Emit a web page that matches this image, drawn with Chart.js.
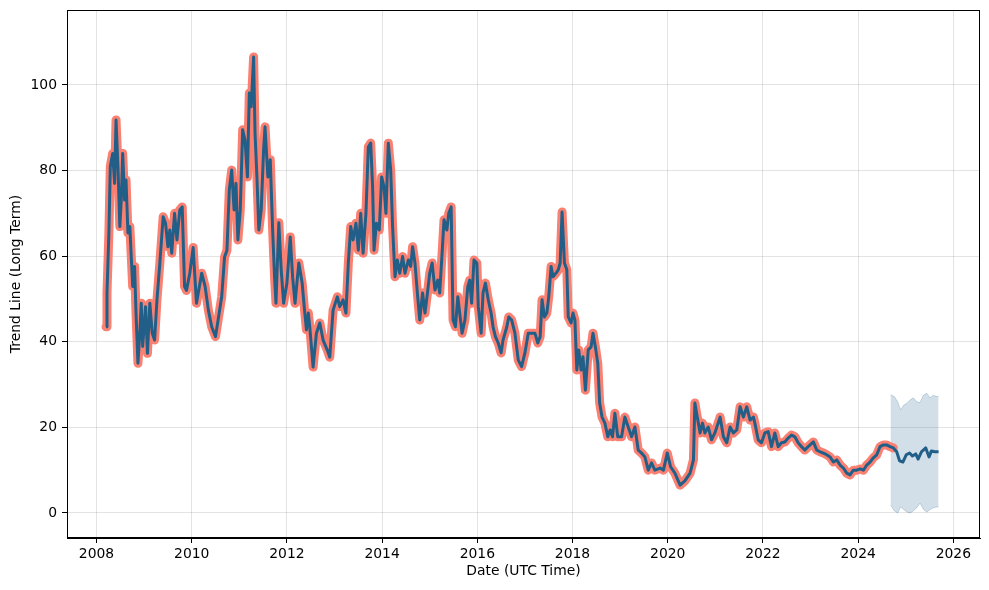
<!DOCTYPE html>
<html lang="en">
  <head>
    <meta charset="UTF-8" />
    <title>Trend Line (Long Term)</title>
    <style>
      html,
      body {
        margin: 0;
        padding: 0;
        background: #fff;
      }
    </style>
    <script src="https://cdn.jsdelivr.net/npm/chart.js"></script>
  </head>
  <body>
    <canvas id="chart" width="989" height="590"></canvas>
    <script>
      // observed history (decimal years)
      const dates = [
        // 2008 - 2009
        2008.20, 2008.22, 2008.26, 2008.29, 2008.34, 2008.38, 2008.41, 2008.45, 2008.49, 2008.52,
        2008.55, 2008.59, 2008.62, 2008.66, 2008.70, 2008.73, 2008.76, 2008.80, 2008.83, 2008.87,
        2008.91, 2008.94, 2008.97, 2009.03, 2009.07, 2009.12, 2009.17, 2009.22, 2009.27, 2009.33,
        2009.40, 2009.45, 2009.50, 2009.54, 2009.58, 2009.64, 2009.69, 2009.75, 2009.80, 2009.85,
        // 2010
        2009.89, 2009.96, 2010.03, 2010.10, 2010.21, 2010.28, 2010.35, 2010.42, 2010.50,
        // 2010 - 2012
        2010.63, 2010.69, 2010.74, 2010.79, 2010.84, 2010.89, 2010.93, 2010.97, 2011.02, 2011.07,
        2011.12, 2011.17, 2011.21, 2011.25, 2011.30, 2011.33, 2011.37, 2011.41, 2011.46, 2011.51,
        2011.54, 2011.60, 2011.65, 2011.70, 2011.74, 2011.77, 2011.83, 2011.88, 2011.93, 2012.00,
        2012.07, 2012.12, 2012.17, 2012.25, 2012.32, 2012.37,
        // 2012 - 2013
        2012.41, 2012.45, 2012.48, 2012.55, 2012.62, 2012.69, 2012.76, 2012.85, 2012.90, 2012.97,
        2013.06,
        // 2013 - 2014
        2013.11, 2013.18, 2013.24, 2013.29, 2013.34, 2013.39, 2013.45, 2013.50, 2013.55, 2013.60,
        2013.66, 2013.71, 2013.76, 2013.80, 2013.83, 2013.88, 2013.94, 2013.99, 2014.04, 2014.08,
        2014.13, 2014.18, 2014.22, 2014.27, 2014.32, 2014.37, 2014.43, 2014.48, 2014.55, 2014.60,
        2014.64, 2014.69, 2014.74, 2014.79, 2014.85,
        // 2015 - 2016
        2014.90, 2014.96, 2015.00, 2015.05, 2015.11, 2015.17, 2015.21, 2015.26, 2015.30, 2015.36,
        2015.40, 2015.45, 2015.47, 2015.49, 2015.54, 2015.59, 2015.63, 2015.68, 2015.74, 2015.80,
        2015.84, 2015.88, 2015.93, 2015.99, 2016.02, 2016.08, 2016.12, 2016.17, 2016.23, 2016.29,
        2016.33, 2016.38, 2016.44, 2016.50, 2016.54, 2016.62, 2016.66,
        // 2016 - 2017
        2016.72, 2016.79, 2016.86, 2016.93, 2017.00, 2017.07, 2017.14,
        // 2017 - 2018
        2017.21, 2017.27, 2017.32, 2017.36, 2017.41, 2017.46, 2017.50, 2017.55, 2017.59, 2017.65,
        2017.70, 2017.74, 2017.78, 2017.83, 2017.88, 2017.91, 2017.97, 2018.01, 2018.05, 2018.09,
        2018.13, 2018.18, 2018.22, 2018.27, 2018.33, 2018.39, 2018.43, 2018.48, 2018.53, 2018.57,
        2018.62, 2018.68, 2018.74, 2018.79, 2018.84, 2018.89, 2018.95,
        // 2019 - 2024
        2019.03, 2019.10, 2019.17, 2019.24, 2019.31, 2019.38, 2019.45, 2019.52, 2019.59, 2019.66,
        2019.73, 2019.84, 2019.91, 2019.99, 2020.06, 2020.15, 2020.26, 2020.36, 2020.47, 2020.54,
        2020.57, 2020.62, 2020.68, 2020.73, 2020.78, 2020.85, 2020.92, 2020.99, 2021.10, 2021.17,
        2021.24, 2021.31, 2021.38, 2021.45, 2021.52, 2021.59, 2021.66, 2021.73, 2021.80, 2021.83,
        2021.90, 2021.97, 2022.04, 2022.11, 2022.18, 2022.25, 2022.32, 2022.39, 2022.46, 2022.53,
        2022.60, 2022.67, 2022.74, 2022.81, 2022.88, 2022.95, 2023.06, 2023.13, 2023.20, 2023.27,
        2023.34, 2023.41, 2023.48, 2023.55, 2023.62, 2023.69, 2023.76, 2023.83, 2023.90, 2023.97,
        2024.04, 2024.11, 2024.18, 2024.25, 2024.32, 2024.39, 2024.46, 2024.53, 2024.60, 2024.67,
        2024.74,
      ];
      const history = [
        // 2008 - 2009
        43.5, 51.4, 65.4, 81.0, 84.0, 77.0, 91.8, 81.0, 66.9, 73.1,
        84.0, 73.1, 77.8, 65.4, 66.9, 59.9, 52.9, 57.6, 46.7, 35.0,
        42.0, 49.0, 38.9, 48.2, 37.3, 49.0, 42.0, 40.4, 49.8, 58.3,
        69.2, 67.7, 62.2, 66.1, 60.7, 70.0, 63.8, 70.8, 71.5, 52.9,
        // 2010
        52.0, 56.0, 62.0, 49.0, 56.0, 53.0, 47.4, 43.5, 41.2,
        // 2010 - 2012
        50.5, 59.8, 61.4, 75.5, 80.1, 70.8, 77.0, 63.8, 70.8, 89.5,
        87.1, 78.5, 98.1, 94.9, 106.5, 88.8, 78.5, 66.1, 70.8, 84.8,
        90.2, 78.5, 82.5, 66.1, 55.1, 49.0, 67.8, 56.8, 49.0, 53.7,
        64.5, 55.1, 49.0, 58.4, 53.7, 47.4,
        // 2012 - 2013
        42.8, 46.7, 43.5, 34.1, 42.0, 44.4, 40.4, 38.0, 36.4, 47.4,
        50.5,
        // 2013 - 2014
        48.2, 49.8, 46.7, 58.4, 66.9, 63.8, 67.7, 61.4, 70.0, 60.7,
        70.0, 85.5, 86.4, 76.2, 61.4, 67.7, 66.1, 78.5, 76.2, 70.0,
        86.4, 80.1, 66.9, 55.2, 59.1, 56.0, 59.9, 56.0, 59.1, 57.6,
        62.2, 58.4, 51.4, 45.1, 51.4,
        // 2015 - 2016
        46.7, 52.1, 56.0, 58.4, 52.1, 54.4, 51.4, 60.7, 68.5, 66.1,
        70.0, 71.5, 58.4, 45.1, 43.5, 50.5, 46.7, 42.0, 45.1, 52.9,
        54.4, 49.0, 59.1, 58.4, 48.2, 42.0, 51.4, 53.7, 49.8, 46.7,
        43.5, 41.2, 39.7, 37.4, 40.4, 43.5, 45.8,
        // 2016 - 2017
        45.1, 42.0, 35.7, 34.2, 37.4, 42.0, 42.0,
        // 2017 - 2018
        42.0, 39.7, 41.2, 49.8, 45.8, 46.7, 50.5, 57.6, 55.2, 56.0,
        56.8, 58.4, 70.3, 58.4, 56.8, 45.8, 44.4, 46.7, 45.1, 33.4,
        38.1, 33.4, 36.5, 28.7, 38.1, 38.8, 42.0, 38.8, 35.0, 25.7,
        22.4, 21.0, 17.8, 19.4, 17.8, 23.3, 17.8,
        // 2019 - 2024
        17.8, 22.4, 20.1, 17.8, 20.1, 14.7, 14.0, 13.1, 10.0, 11.7,
        10.0, 10.5, 10.0, 14.0, 10.8, 9.3, 6.5, 7.5, 9.3, 12.4,
        25.7, 22.4, 18.7, 21.0, 18.7, 20.1, 17.1, 18.7, 22.4, 17.8,
        16.4, 20.1, 18.7, 19.4, 24.8, 22.4, 24.8, 21.7, 22.4, 21.0,
        17.1, 16.4, 18.7, 19.0, 15.5, 18.7, 15.5, 16.4, 16.6, 17.5,
        18.2, 17.8, 16.4, 15.5, 14.7, 15.5, 16.6, 14.7, 14.3, 14.0,
        13.6, 13.1, 11.9, 12.4, 11.2, 10.5, 9.3, 8.9, 10.0, 10.0,
        10.3, 10.0, 11.2, 11.9, 12.9, 13.6, 15.5, 15.9, 15.9, 15.5,
        15.2,
      ];

      // forecast trend
      const forecastDates = [
        2024.81, 2024.87, 2024.94, 2025.01, 2025.08, 2025.14, 2025.21, 2025.26, 2025.33, 2025.42,
        2025.49, 2025.54, 2025.61, 2025.69,
      ];
      const forecastTrend = [
        14.3, 12.2, 11.9, 13.6, 14.0, 13.3, 13.8, 12.6, 14.3, 15.2,
        13.1, 14.5, 14.3, 14.3,
      ];

      // forecast uncertainty band
      const bandDates = [
        2024.68, 2024.76, 2024.83, 2024.89, 2024.96, 2025.03, 2025.10, 2025.16, 2025.23, 2025.30,
        2025.37, 2025.44, 2025.51, 2025.58, 2025.65, 2025.69,
      ];
      const bandUpper = [
        27.6, 27.2, 26.0, 24.1, 25.2, 25.7, 26.5, 26.9, 26.0, 25.8,
        27.5, 28.0, 26.9, 27.5, 27.2, 27.2,
      ];
      const bandLower = [
        1.9, 0.5, 0.0, 1.4, 0.8, 0.2, 0.0, 0.5, 1.2, 2.3,
        0.9, 0.2, 0.8, 1.2, 1.4, 1.4,
      ];

      const toPoints = (xs, ys) => xs.map((x, i) => ({ x: x, y: ys[i] }));

      const bandColor = "rgba(31, 95, 139, 0.2)";

      // matplotlib-like frame round the plot area
      const framePlugin = {
        id: "frame",
        afterDraw(chart) {
          const { ctx, chartArea } = chart;
          ctx.save();
          ctx.strokeStyle = "#000";
          ctx.lineWidth = 1;
          ctx.strokeRect(
            Math.round(chartArea.left) + 0.5,
            Math.round(chartArea.top) + 0.5,
            Math.round(chartArea.right - chartArea.left) - 1,
            Math.round(chartArea.bottom - chartArea.top) - 1
          );
          ctx.restore();
        },
      };

      Chart.defaults.font.family = "'DejaVu Sans', sans-serif";
      Chart.defaults.font.size = 13.9;
      Chart.defaults.color = "#000";

      new Chart(document.getElementById("chart"), {
        type: "line",
        data: {
          datasets: [
            {
              label: "Trend",
              data: toPoints(dates.concat(forecastDates), history.concat(forecastTrend)),
              borderColor: "#215f88",
              borderWidth: 3,
              borderJoinStyle: "round",
              pointRadius: 0,
              fill: false,
              order: 0,
            },
            {
              label: "Actual",
              data: toPoints(dates, history),
              borderColor: "#fa8072",
              borderWidth: 9,
              borderJoinStyle: "round",
              borderCapStyle: "round",
              pointRadius: 0,
              fill: false,
              order: 1,
            },
            {
              label: "Upper",
              data: toPoints(bandDates, bandUpper),
              borderColor: "rgba(31, 95, 139, 0.22)",
              borderWidth: 1,
              backgroundColor: bandColor,
              pointRadius: 0,
              fill: "+1",
              order: 2,
            },
            {
              label: "Lower",
              data: toPoints(bandDates, bandLower),
              borderColor: "rgba(31, 95, 139, 0.22)",
              borderWidth: 1,
              pointRadius: 0,
              fill: false,
              order: 3,
            },
          ],
        },
        options: {
          responsive: false,
          animation: false,
          layout: { padding: { top: 10, right: 9, left: 0, bottom: 0 } },
          plugins: {
            legend: { display: false },
            tooltip: { enabled: false },
          },
          scales: {
            x: {
              type: "linear",
              min: 2007.38,
              max: 2026.56,
              afterFit(scale) {
                scale.height = 52;
                scale.paddingLeft = 0;
                scale.paddingRight = 0;
              },
              ticks: {
                stepSize: 2,
                includeBounds: false,
                maxRotation: 0,
                padding: 3,
                callback: (v) => String(Math.round(v)),
              },
              grid: {
                color: "rgba(128, 128, 128, 0.22)",
                tickColor: "#000",
                tickLength: 5,
              },
              border: { display: true, color: "#000" },
              title: {
                display: true,
                text: "Date (UTC Time)",
                padding: { top: 0, bottom: 10 },
              },
            },
            y: {
              min: -5.84,
              max: 117.5,
              afterFit(scale) {
                scale.width = 67;
                scale.paddingTop = 0;
                scale.paddingBottom = 0;
              },
              ticks: {
                stepSize: 20,
                includeBounds: false,
                padding: 5,
              },
              grid: {
                color: "rgba(128, 128, 128, 0.22)",
                tickColor: "#000",
                tickLength: 5,
              },
              border: { display: true, color: "#000" },
              title: {
                display: true,
                text: "Trend Line (Long Term)",
                padding: { top: 8, bottom: 0 },
              },
            },
          },
        },
        plugins: [framePlugin],
      });
    </script>
  </body>
</html>
